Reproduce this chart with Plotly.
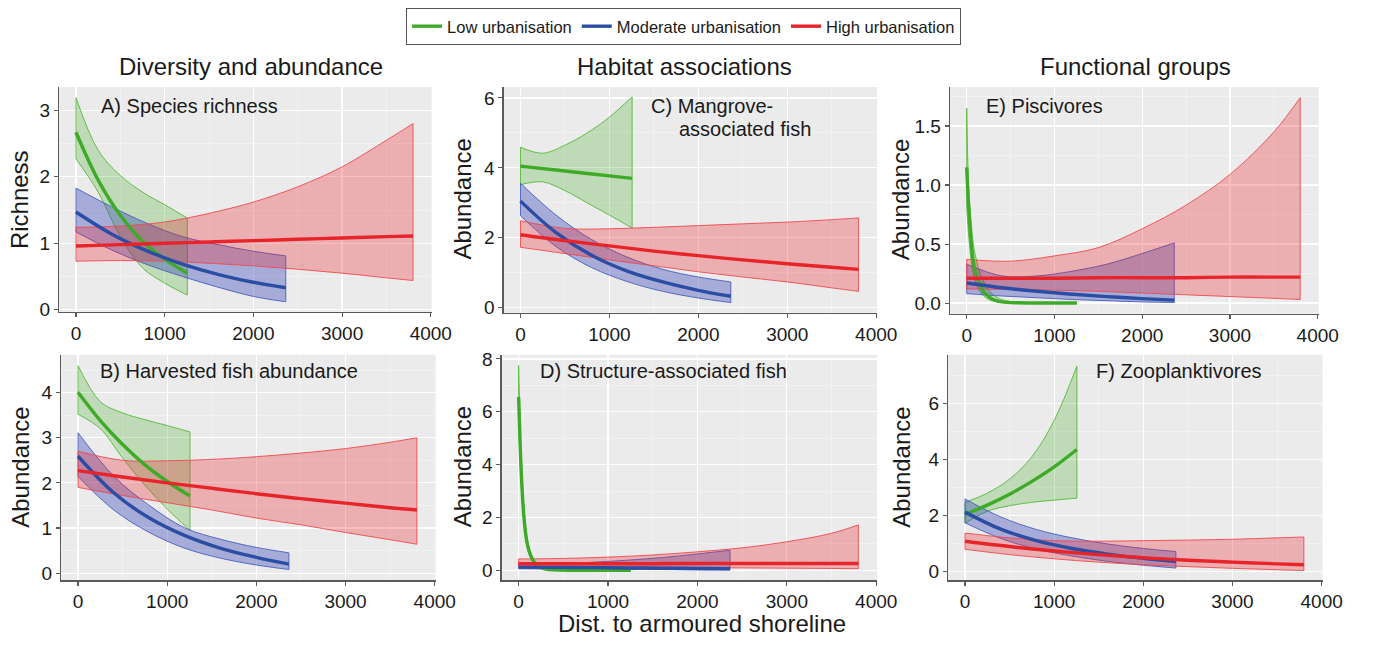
import plotly.graph_objects as go

W, H = 1381, 646

# ---------------- DATA ----------------
X_LOW = [0, 250, 500, 750, 1000, 1255]
X_MOD = [0, 400, 800, 1200, 1600, 2000, 2365]
X_HIGH = [0, 500, 1000, 1500, 2000, 2500, 3000, 3500, 3800]
X_LOW_D = [0, 20, 40, 60, 80, 100, 125, 150, 200, 250, 300, 400, 600, 900, 1255]
X_LOW_E = [0, 25, 50, 75, 100, 150, 200, 250, 300, 400, 600, 900, 1255]

# A) Species richness
A_LOW_MEAN = [2.67, 1.95, 1.42, 1.03, 0.76, 0.55]
A_LOW_LO = [2.27, 1.77, 1.10, 0.63, 0.40, 0.22]
A_LOW_HI = [3.19, 2.40, 2.02, 1.77, 1.58, 1.38]
A_MOD_MEAN = [1.47, 1.14, 0.885, 0.687, 0.533, 0.414, 0.33]
A_MOD_LO = [1.17, 0.90, 0.68, 0.50, 0.34, 0.20, 0.12]
A_MOD_HI = [1.83, 1.55, 1.30, 1.10, 0.98, 0.88, 0.81]
A_HIGH_MEAN = [0.96, 0.98, 1.00, 1.02, 1.04, 1.06, 1.08, 1.10, 1.11]
A_HIGH_LO = [0.73, 0.74, 0.73, 0.70, 0.66, 0.61, 0.55, 0.48, 0.44]
A_HIGH_HI = [1.24, 1.26, 1.32, 1.45, 1.62, 1.85, 2.15, 2.55, 2.80]

# B) Harvested fish abundance
B_LOW_MEAN = [4.01, 3.38, 2.85, 2.40, 2.03, 1.71]
B_LOW_LO = [3.52, 3.20, 2.55, 1.95, 1.42, 0.95]
B_LOW_HI = [4.60, 3.80, 3.55, 3.40, 3.27, 3.13]
B_MOD_MEAN = [2.59, 1.78, 1.22, 0.83, 0.55, 0.35, 0.20]
B_MOD_LO = [2.14, 1.40, 0.90, 0.55, 0.33, 0.18, 0.08]
B_MOD_HI = [3.11, 2.15, 1.50, 1.00, 0.75, 0.57, 0.45]
B_HIGH_MEAN = [2.27, 2.13, 2.00, 1.88, 1.76, 1.65, 1.55, 1.45, 1.40]
B_HIGH_LO = [1.90, 1.72, 1.56, 1.40, 1.22, 1.07, 0.90, 0.74, 0.64]
B_HIGH_HI = [2.70, 2.50, 2.49, 2.52, 2.58, 2.66, 2.76, 2.90, 3.00]

# C) Mangrove-associated fish
C_LOW_MEAN = [4.05, 3.98, 3.91, 3.84, 3.77, 3.70]
C_LOW_LO = [3.52, 3.60, 3.35, 3.00, 2.65, 2.28]
C_LOW_HI = [4.59, 4.42, 4.65, 5.00, 5.45, 6.03]
C_MOD_MEAN = [3.05, 2.15, 1.50, 1.05, 0.74, 0.50, 0.33]
C_MOD_LO = [2.63, 1.75, 1.15, 0.75, 0.47, 0.28, 0.15]
C_MOD_HI = [3.56, 2.65, 1.95, 1.45, 1.10, 0.88, 0.74]
C_HIGH_MEAN = [2.09, 1.92, 1.77, 1.62, 1.49, 1.37, 1.26, 1.16, 1.10]
C_HIGH_LO = [1.73, 1.55, 1.37, 1.20, 1.03, 0.88, 0.74, 0.57, 0.47]
C_HIGH_HI = [2.49, 2.27, 2.26, 2.30, 2.35, 2.40, 2.45, 2.52, 2.57]

# D) Structure-associated fish
D_LOW_MEAN = [6.56, 4.50, 3.00, 2.00, 1.35, 0.95, 0.65, 0.45, 0.20, 0.10, 0.05, 0.015, 0.002, 0.0, 0.0]
D_LOW_LO = [5.50, 3.90, 2.60, 1.70, 1.15, 0.80, 0.55, 0.38, 0.16, 0.08, 0.04, 0.012, 0.001, 0.0, 0.0]
D_LOW_HI = [7.75, 5.20, 3.50, 2.35, 1.60, 1.12, 0.77, 0.54, 0.25, 0.12, 0.06, 0.02, 0.003, 0.001, 0.001]
D_MOD_MEAN = [0.12, 0.11, 0.10, 0.09, 0.08, 0.07, 0.06]
D_MOD_LO = [0.06, 0.05, 0.05, 0.04, 0.03, 0.02, 0.02]
D_MOD_HI = [0.22, 0.25, 0.30, 0.38, 0.48, 0.62, 0.76]
D_HIGH_MEAN = [0.25, 0.25, 0.25, 0.25, 0.26, 0.26, 0.26, 0.26, 0.26]
D_HIGH_LO = [0.15, 0.14, 0.13, 0.12, 0.10, 0.09, 0.08, 0.07, 0.06]
D_HIGH_HI = [0.43, 0.45, 0.50, 0.58, 0.70, 0.85, 1.08, 1.40, 1.72]

# E) Piscivores
E_LOW_MEAN = [1.15, 0.78, 0.52, 0.35, 0.26, 0.16, 0.09, 0.055, 0.03, 0.01, 0.002, 0.0, 0.0]
E_LOW_LO = [0.80, 0.55, 0.36, 0.25, 0.18, 0.10, 0.055, 0.03, 0.018, 0.006, 0.001, 0.0, 0.0]
E_LOW_HI = [1.65, 0.93, 0.70, 0.50, 0.40, 0.26, 0.17, 0.11, 0.07, 0.03, 0.005, 0.001, 0.001]
E_MOD_MEAN = [0.17, 0.13, 0.10, 0.075, 0.055, 0.038, 0.025]
E_MOD_LO = [0.08, 0.06, 0.045, 0.03, 0.02, 0.01, 0.005]
E_MOD_HI = [0.33, 0.23, 0.23, 0.27, 0.33, 0.42, 0.51]
E_HIGH_MEAN = [0.21, 0.21, 0.21, 0.215, 0.215, 0.215, 0.22, 0.22, 0.22]
E_HIGH_LO = [0.12, 0.115, 0.11, 0.10, 0.085, 0.07, 0.055, 0.04, 0.03]
E_HIGH_HI = [0.37, 0.355, 0.40, 0.47, 0.63, 0.83, 1.09, 1.45, 1.74]

# F) Zooplanktivores
F_LOW_MEAN = [2.04, 2.37, 2.76, 3.22, 3.74, 4.36]
F_LOW_LO = [1.72, 2.15, 2.35, 2.47, 2.55, 2.62]
F_LOW_HI = [2.47, 2.80, 3.30, 4.10, 5.40, 7.34]
F_MOD_MEAN = [2.12, 1.51, 1.10, 0.82, 0.62, 0.47, 0.35]
F_MOD_LO = [1.74, 1.18, 0.80, 0.55, 0.36, 0.22, 0.12]
F_MOD_HI = [2.59, 1.95, 1.50, 1.20, 0.98, 0.82, 0.71]
F_HIGH_MEAN = [1.08, 0.89, 0.73, 0.60, 0.49, 0.40, 0.33, 0.27, 0.24]
F_HIGH_LO = [0.79, 0.60, 0.45, 0.33, 0.24, 0.17, 0.11, 0.06, 0.03]
F_HIGH_HI = [1.37, 1.20, 1.10, 1.08, 1.10, 1.12, 1.15, 1.20, 1.23]

SERIES_NAMES = ["Low urbanisation", "Moderate urbanisation", "High urbanisation"]
COLUMN_TITLES = ["Diversity and abundance", "Habitat associations", "Functional groups"]
X_TITLE = "Dist. to armoured shoreline"
X_TICKS = [0, 1000, 2000, 3000, 4000]

# ---------------- STYLE ----------------
FONT = "Liberation Sans, Arial, Helvetica, sans-serif"
TXT = "#1a1a1a"
LINE_COL = ["#3FAA28", "#2B4DA3", "#E8242B"]
EDGE_COL = ["#55B83A", "#4A5EC0", "#EE4A50"]
FILL_COL = ["rgba(70,175,40,0.27)", "rgba(45,60,180,0.36)", "rgba(235,35,45,0.30)"]


def fx(px):
    return px / W


def fy(py):
    return 1 - py / H


panels = [
    ("A", (X_LOW, X_MOD, X_HIGH),
     [(A_LOW_MEAN, A_LOW_LO, A_LOW_HI), (A_MOD_MEAN, A_MOD_LO, A_MOD_HI), (A_HIGH_MEAN, A_HIGH_LO, A_HIGH_HI)],
     (60, 438, 83, 313), [-0.03, 3.35], 1, 0.5, None),
    ("B", (X_LOW, X_MOD, X_HIGH),
     [(B_LOW_MEAN, B_LOW_LO, B_LOW_HI), (B_MOD_MEAN, B_MOD_LO, B_MOD_HI), (B_HIGH_MEAN, B_HIGH_LO, B_HIGH_HI)],
     (62, 442, 357, 588), [-0.16, 4.84], 1, 0.5, None),
    ("C", (X_LOW, X_MOD, X_HIGH),
     [(C_LOW_MEAN, C_LOW_LO, C_LOW_HI), (C_MOD_MEAN, C_MOD_LO, C_MOD_HI), (C_HIGH_MEAN, C_HIGH_LO, C_HIGH_HI)],
     (511, 890, 83, 314), [-0.14, 6.31], 2, 1, None),
    ("D", (X_LOW_D, X_MOD, X_HIGH),
     [(D_LOW_MEAN, D_LOW_LO, D_LOW_HI), (D_MOD_MEAN, D_MOD_LO, D_MOD_HI), (D_HIGH_MEAN, D_HIGH_LO, D_HIGH_HI)],
     (509, 890, 357, 588), [-0.38, 8.16], 2, 1, None),
    ("E", (X_LOW_E, X_MOD, X_HIGH),
     [(E_LOW_MEAN, E_LOW_LO, E_LOW_HI), (E_MOD_MEAN, E_MOD_LO, E_MOD_HI), (E_HIGH_MEAN, E_HIGH_LO, E_HIGH_HI)],
     (964, 1338, 83, 315), [-0.09, 1.83], 0.5, 0.25, ".1f"),
    ("F", (X_LOW, X_MOD, X_HIGH),
     [(F_LOW_MEAN, F_LOW_LO, F_LOW_HI), (F_MOD_MEAN, F_MOD_LO, F_MOD_HI), (F_HIGH_MEAN, F_HIGH_LO, F_HIGH_HI)],
     (962, 1342, 357, 588), [-0.32, 7.75], 2, 1, None),
]

fig = go.Figure()
layout_axes = {}

for i, (key, xs_set, data, box, yr, dt, mdt, yfmt) in enumerate(panels, start=1):
    xa, ya = f"x{i}", f"y{i}"
    for s in range(3):
        xs = xs_set[s]
        mean, lo, hi = data[s]
        fig.add_trace(go.Scatter(x=xs, y=hi, mode="lines", xaxis=xa, yaxis=ya,
                                 line=dict(color=EDGE_COL[s], width=0.9, shape="spline"),
                                 showlegend=False, hoverinfo="skip"))
        fig.add_trace(go.Scatter(x=xs, y=lo, mode="lines", xaxis=xa, yaxis=ya,
                                 line=dict(color=EDGE_COL[s], width=0.9, shape="spline"),
                                 fill="tonexty", fillcolor=FILL_COL[s],
                                 showlegend=False, hoverinfo="skip"))
        fig.add_trace(go.Scatter(x=[xs[0], xs[0], None, xs[-1], xs[-1]],
                                 y=[lo[0], hi[0], None, lo[-1], hi[-1]],
                                 mode="lines", xaxis=xa, yaxis=ya,
                                 line=dict(color=EDGE_COL[s], width=0.9),
                                 showlegend=False, hoverinfo="skip"))
    for s in range(3):
        xs = xs_set[s]
        mean = data[s][0]
        fig.add_trace(go.Scatter(x=xs, y=mean, mode="lines", xaxis=xa, yaxis=ya,
                                 name=SERIES_NAMES[s],
                                 line=dict(color=LINE_COL[s], width=3.4, shape="spline"),
                                 showlegend=(i == 1), legendrank=s + 1))

    l, r, t, b = box
    common = dict(showline=True, linecolor="#5a5a5a", linewidth=1.3, ticks="outside",
                  ticklen=4, tickcolor="#5a5a5a", tickwidth=1.1,
                  tickfont=dict(size=19, color=TXT, family=FONT),
                  showgrid=True, gridcolor="#FFFFFF", gridwidth=1.2, zeroline=False)
    layout_axes[f"xaxis{i}"] = dict(domain=[fx(l), fx(r)], anchor=ya, range=[-190, 4010],
                                    tickmode="array", tickvals=X_TICKS,
                                    minor=dict(dtick=500, tick0=0, showgrid=True,
                                               gridcolor="#F5F5F5", gridwidth=0.7, ticks=""),
                                    **common)
    yax = dict(domain=[fy(b), fy(t)], anchor=xa, range=yr, tickmode="linear", tick0=0, dtick=dt,
               minor=dict(dtick=mdt, tick0=0, showgrid=True, gridcolor="#F5F5F5",
                          gridwidth=0.7, ticks=""),
               **common)
    if yfmt:
        yax["tickformat"] = yfmt
    layout_axes[f"yaxis{i}"] = yax

fig.update_layout(**layout_axes)

ann = []


def px_ann(text, x, y, size, xanchor="left", yanchor="middle", angle=0):
    ann.append(dict(text=text, x=fx(x), y=fy(y), xref="paper", yref="paper",
                    xanchor=xanchor, yanchor=yanchor, showarrow=False, textangle=angle,
                    font=dict(size=size, color=TXT, family=FONT)))


px_ann(COLUMN_TITLES[0], 255, 62, 24, "center")
px_ann(COLUMN_TITLES[1], 695, 62, 24, "center")
px_ann(COLUMN_TITLES[2], 1152, 62, 24, "center")
px_ann("A) Species richness", 100, 102, 20)
px_ann("B) Harvested fish abundance", 99, 374, 20)
px_ann("C) Mangrove-", 659, 102, 20)
px_ann("associated fish", 687, 126, 20)
px_ann("D) Structure-associated fish", 546, 374, 20)
px_ann("E) Piscivores", 998, 102, 20)
px_ann("F) Zooplanktivores", 1110, 374, 20)
px_ann("Richness", 20, 198, 24, "center", "middle", -90)
px_ann("Abundance", 20, 472, 24, "center", "middle", -90)
px_ann("Abundance", 469, 198, 24, "center", "middle", -90)
px_ann("Abundance", 469, 472, 24, "center", "middle", -90)
px_ann("Abundance", 914, 198, 24, "center", "middle", -90)
px_ann("Abundance", 914, 472, 24, "center", "middle", -90)
px_ann(X_TITLE, 712, 632, 24, "center")

fig.update_layout(
    width=W, height=H, margin=dict(l=0, r=0, t=0, b=0),
    paper_bgcolor="white", plot_bgcolor="#EBEBEB",
    font=dict(family=FONT, color=TXT),
    annotations=ann,
    legend=dict(orientation="h", x=fx(412), y=fy(2), xanchor="left", yanchor="top",
                bordercolor="#555555", borderwidth=1, bgcolor="white",
                font=dict(size=16.5, color=TXT, family=FONT), itemwidth=30,
                traceorder="normal"),
)

fig.write_html("out.html",
               config={"displayModeBar": False, "staticPlot": True},
               post_script="document.body.style.margin='0px';"
                           "document.body.style.overflow='hidden';")
